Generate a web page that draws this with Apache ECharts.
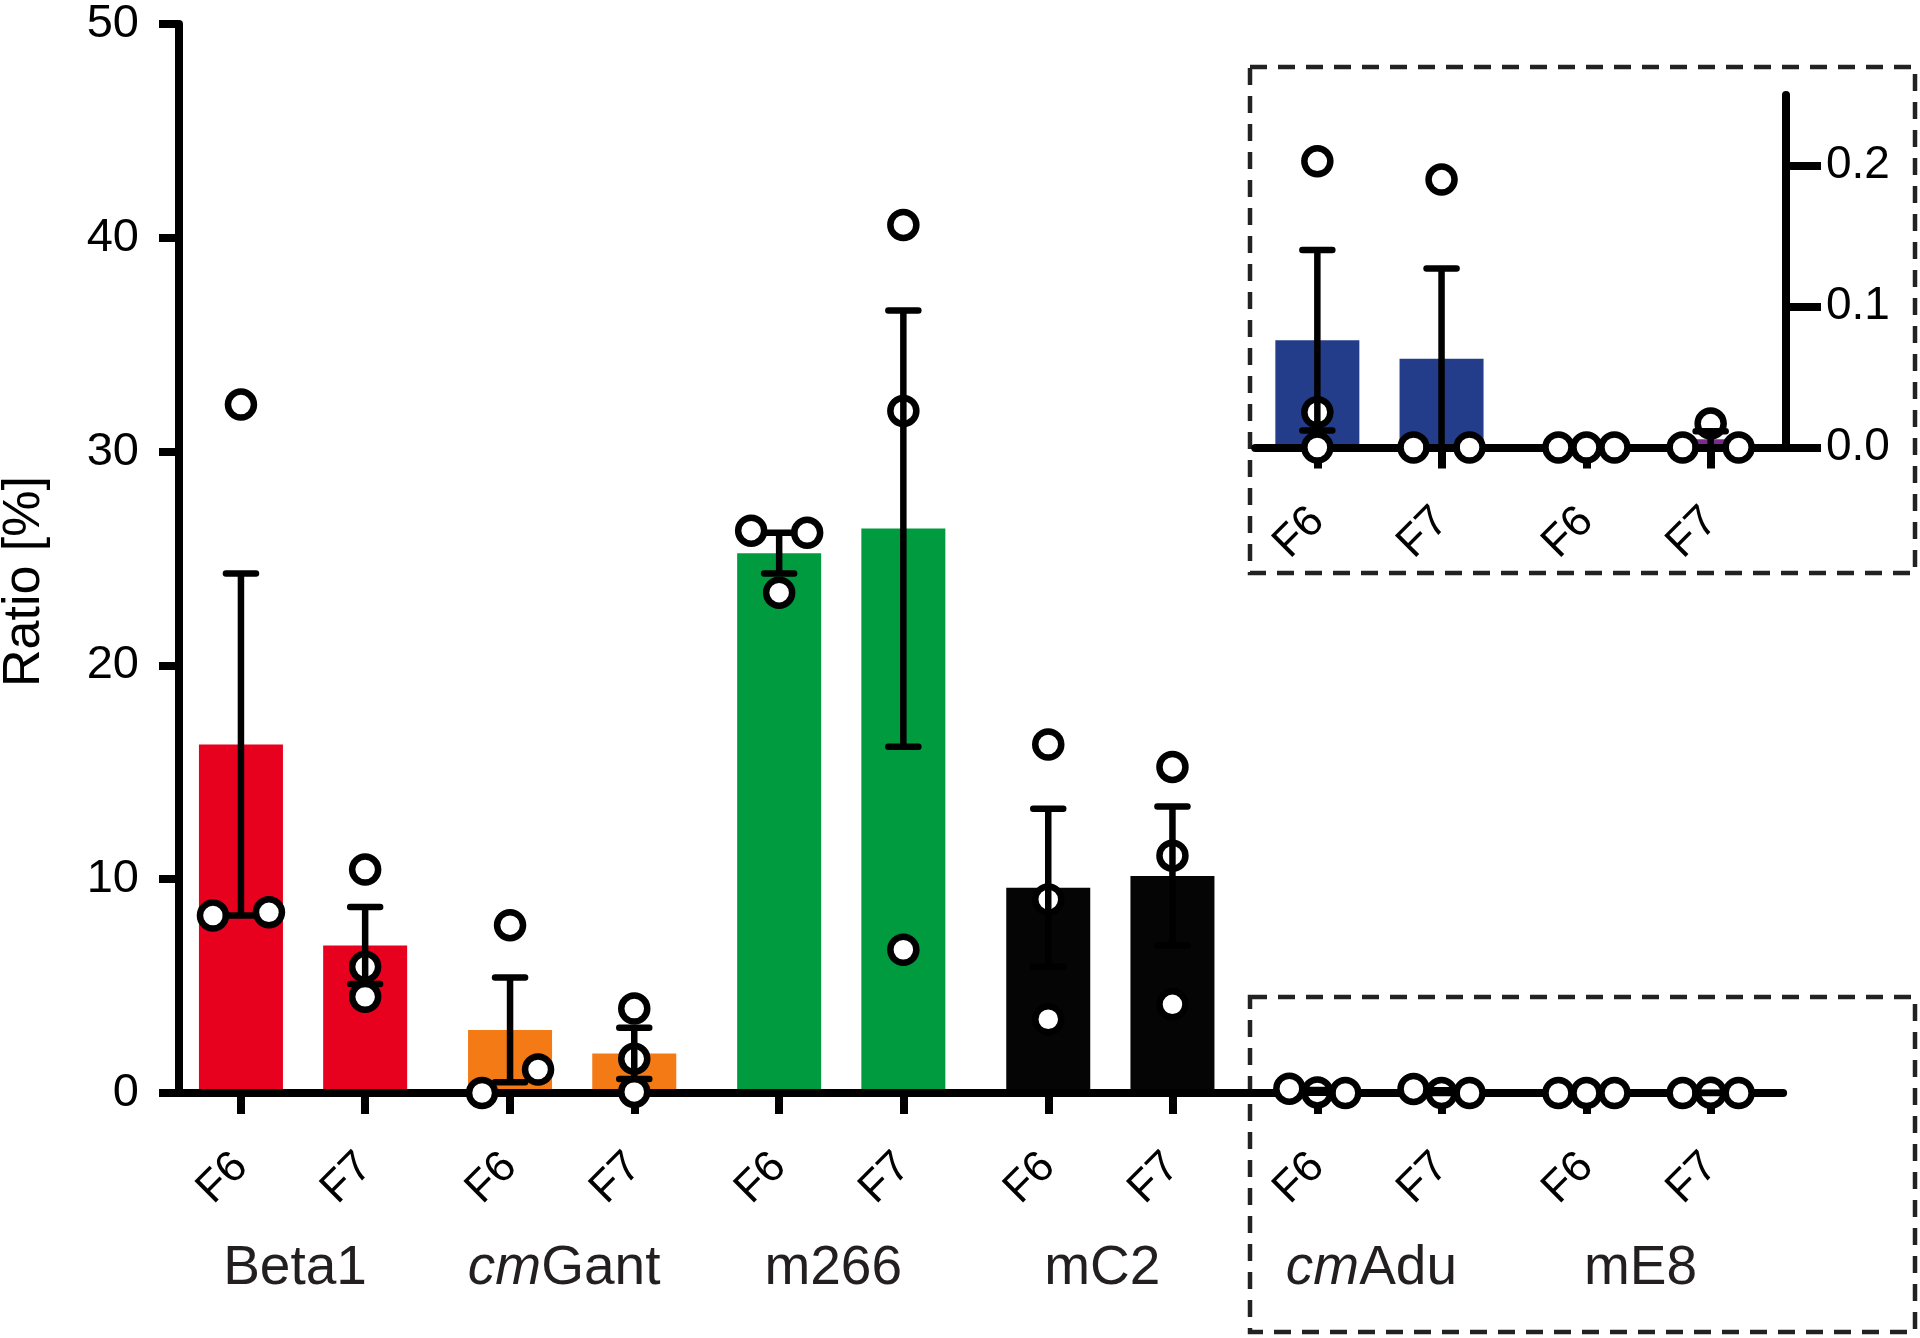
<!DOCTYPE html>
<html><head><meta charset="utf-8">
<script src="https://cdn.jsdelivr.net/npm/echarts@6/dist/echarts.min.js"></script>
<style>html,body{margin:0;padding:0;background:#fff}#c{width:1920px;height:1338px}</style>
</head><body><div id="c"></div>
<script>
// ---------------- data ----------------
const groups = ['Beta1', 'cmGant', 'm266', 'mC2', 'cmAdu', 'mE8'];
const groupItalicPrefix = ['', 'cm', '', '', 'cm', ''];
const members = ['F6', 'F7'];
const meanF6 = [16.3, 2.95, 25.25, 9.6, 0.076, 0];
const meanF7 = [6.9, 1.85, 26.4, 10.15, 0.063, 0.0058];
const semF6 = [8.0, 2.45, 0.95, 3.7, 0.064, 0];
const semF7 = [1.8, 1.2, 10.2, 3.25, 0.064, 0.0058];
const pointsF6 = [[32.2, 8.3, 8.45], [7.85, 0, 1.1], [26.3, 26.2, 23.4], [16.3, 9.05, 3.45], [0.203, 0.025, 0], [0, 0, 0]];
const pointsF7 = [[10.45, 5.9, 4.5], [3.95, 1.6, 0.05], [40.6, 31.9, 6.7], [15.25, 11.1, 4.15], [0.19, 0, 0], [0, 0.017, 0]];
const mainYTicks = [0, 10, 20, 30, 40, 50];
const insetYTicks = [0, 0.1, 0.2];
const insetGroups = ['cmAdu', 'mE8'];
const yAxisName = 'Ratio [%]';

// ---------------- styles / layout ----------------
const groupColors = ['#E8001F', '#F47A16', '#009B3F', '#050505', '#233D8A', '#7B2D8E'];
const FF = '"Liberation Sans", Arial, Helvetica, sans-serif';
const SLOTS = 13, MEMBER_SLOT = [3, 9];
const MAIN_LEFT = 168.5;
const N = groups.length * SLOTS;
const SLOT_W = (1783.1 - MAIN_LEFT) / N;
const MAIN_RIGHT = 1920 - (MAIN_LEFT + N * SLOT_W);
const INSET_START = groups.indexOf(insetGroups[0]) * SLOTS;
const LW = 8;
const R = 13, STEP = 28;

const cats = [];
groups.forEach((g, gi) => {
  for (let s = 0; s < SLOTS; s++) {
    const mi = MEMBER_SLOT.indexOf(s);
    cats.push(g + ':' + (mi >= 0 ? members[mi] : '_' + s));
  }
});
const insetCats = cats.slice(INSET_START).concat(['end:_x']);

const cols = [];
groups.forEach((g, gi) => {
  [[meanF6, semF6, pointsF6], [meanF7, semF7, pointsF7]].forEach((arr, mi) => {
    cols.push({ g: gi, slot: gi * SLOTS + MEMBER_SLOT[mi], mean: arr[0][gi], sem: arr[1][gi], pts: arr[2][gi], color: groupColors[gi] });
  });
});
const insetCols = cols.filter(c => c.slot >= INSET_START);

function barData(len, off, list) {
  const d = new Array(len).fill(null);
  list.forEach(c => { d[c.slot - off] = { value: c.mean, itemStyle: { color: c.color } }; });
  return d;
}

function dodge(ys, thr) {
  const order = ys.map((y, i) => i).sort((a, b) => ys[a] - ys[b]);
  const clusters = []; let cur = [order[0]];
  for (let k = 1; k < order.length; k++) {
    if (ys[order[k]] - ys[order[k - 1]] < thr) cur.push(order[k]);
    else { clusters.push(cur); cur = [order[k]]; }
  }
  clusters.push(cur);
  const off = new Array(ys.length).fill(0);
  clusters.forEach(cl => {
    cl.sort((a, b) => a - b);
    const n = cl.length;
    cl.forEach((idx, j) => { off[idx] = n % 2 ? j - (n - 1) / 2 : (j - (n - 1) / 2) * 2; });
  });
  return off;
}

function pointSeries(ax, list, off) {
  const data = [];
  list.forEach((c) => { const ci = cols.indexOf(c); c.pts.forEach((v, i) => data.push([c.slot - off, v, ci, i])); });
  return {
    type: 'custom', xAxisIndex: ax, yAxisIndex: ax, z: 5, silent: true, data,
    renderItem(params, api) {
      const x = api.value(0), ci = api.value(2), pi = api.value(3);
      const col = cols[ci];
      const ys = col.pts.map(v => api.coord([x, v])[1]);
      const offs = dodge(ys, 28);
      const p = api.coord([x, col.pts[pi]]);
      return { type: 'circle', shape: { cx: p[0] + offs[pi] * STEP, cy: p[1], r: R },
        style: { fill: '#fff', stroke: '#000', lineWidth: 6.5 } };
    }
  };
}

function errorSeries(ax, list, off) {
  return {
    type: 'custom', xAxisIndex: ax, yAxisIndex: ax, z: 6, silent: true,
    data: list.map(c => [c.slot - off, c.mean, c.sem]),
    renderItem(params, api) {
      const x = api.value(0), m = api.value(1), s = api.value(2);
      if (!(s > 0)) return null;
      const t = api.coord([x, m + s]), b = api.coord([x, Math.max(m - s, 0)]);
      const hw = 15, st = { stroke: '#000', lineWidth: 6.5, lineCap: 'round' };
      return { type: 'group', children: [
        { type: 'line', shape: { x1: t[0], y1: t[1], x2: b[0], y2: b[1] }, style: { stroke: '#000', lineWidth: 6.5 } },
        { type: 'line', shape: { x1: t[0] - hw, y1: t[1], x2: t[0] + hw, y2: t[1] }, style: st },
        { type: 'line', shape: { x1: b[0] - hw, y1: b[1], x2: b[0] + hw, y2: b[1] }, style: st }
      ] };
    }
  };
}

const isLabel = (i, v) => v.indexOf(':_') < 0;
const memberLabel = v => v.split(':')[1];
const xAxisCommon = {
  type: 'category', z: 4,
  axisLine: { show: true, onZero: false, lineStyle: { color: '#000', width: LW } },
  axisTick: { show: true, alignWithLabel: true, interval: isLabel, length: 21, lineStyle: { color: '#000', width: LW } },
  axisLabel: { interval: isLabel, formatter: memberLabel, rotate: 45, margin: 67, fontSize: 44, fontFamily: FF, color: '#000' },
  splitLine: { show: false }
};

const chart = echarts.init(document.getElementById('c'), null, { renderer: 'canvas' });
chart.setOption({
  animation: false,
  backgroundColor: '#fff',
  grid: [
    { left: MAIN_LEFT, right: MAIN_RIGHT, top: 24, bottom: 245, outerBoundsMode: 'none', containLabel: false },
    { left: MAIN_LEFT + (INSET_START + 0.5) * SLOT_W, right: 1920 - (MAIN_LEFT + (N + 0.5) * SLOT_W), top: 95, bottom: 1338 - 447.5, outerBoundsMode: 'none', containLabel: false },
    { left: MAIN_LEFT, right: MAIN_RIGHT, top: 24, bottom: 245, outerBoundsMode: 'none', containLabel: false }
  ],
  xAxis: [
    Object.assign({}, xAxisCommon, { gridIndex: 0, data: cats, boundaryGap: true }),
    Object.assign({}, xAxisCommon, { gridIndex: 1, data: insetCats, boundaryGap: false }),
    { type: 'category', gridIndex: 2, data: groups, boundaryGap: true,
      axisLine: { show: false }, axisTick: { show: false }, splitLine: { show: false },
      axisLabel: { interval: 0, margin: 148, padding: [0, 16, 0, 0],
        formatter: (v) => { const p = groupItalicPrefix[groups.indexOf(v)]; return p ? '{i|' + p + '}{n|' + v.slice(p.length) + '}' : '{n|' + v + '}'; },
        rich: { i: { fontStyle: 'italic', fontSize: 55, fontFamily: FF, color: '#231f20' }, n: { fontSize: 55, fontFamily: FF, color: '#231f20' } } } }
  ],
  yAxis: [
    { type: 'value', gridIndex: 0, min: mainYTicks[0], max: mainYTicks[mainYTicks.length - 1], interval: mainYTicks[1] - mainYTicks[0], offset: -10.5, z: 4,
      axisLine: { show: true, lineStyle: { color: '#000', width: LW } },
      axisTick: { show: true, length: 20, lineStyle: { color: '#000', width: LW } },
      axisLabel: { margin: 40, fontSize: 47, fontFamily: FF, color: '#000' },
      splitLine: { show: false },
      name: yAxisName, nameLocation: 'middle', nameGap: 128, nameRotate: 90,
      nameTextStyle: { fontSize: 52, fontFamily: FF, color: '#000', padding: [0, 46, 0, 0] } },
    { type: 'value', gridIndex: 1, position: 'right', min: 0, max: 0.25, offset: -7.45, z: 4,
      axisLine: { show: true, lineStyle: { color: '#000', width: LW } },
      axisTick: { show: true, length: 35, customValues: insetYTicks, lineStyle: { color: '#000', width: LW } },
      axisLabel: { margin: 40, fontSize: 46, fontFamily: FF, color: '#000', customValues: insetYTicks, formatter: v => Number(v).toFixed(1) },
      splitLine: { show: false } },
    { type: 'value', gridIndex: 2, show: false, min: 0, max: 50 }
  ],
  graphic: [
    { type: 'rect', silent: true, z: 1, shape: { x: 1250, y: 67, width: 665, height: 506 },
      style: { fill: 'none', stroke: '#222', lineWidth: 4.5, lineDash: [17, 11] } },
    { type: 'rect', silent: true, z: 1, shape: { x: 1250, y: 997, width: 665, height: 335 },
      style: { fill: 'none', stroke: '#222', lineWidth: 4.5, lineDash: [17, 11] } }
  ],
  series: [
    { type: 'bar', xAxisIndex: 0, yAxisIndex: 0, barWidth: 84, z: 2, silent: true, data: barData(N, 0, cols) },
    { type: 'bar', xAxisIndex: 1, yAxisIndex: 1, barWidth: 84, z: 2, silent: true, data: barData(insetCats.length, INSET_START, insetCols) },
    pointSeries(0, cols, 0),
    pointSeries(1, insetCols, INSET_START),
    errorSeries(0, cols, 0),
    errorSeries(1, insetCols, INSET_START)
  ]
});
</script>
</body></html>
